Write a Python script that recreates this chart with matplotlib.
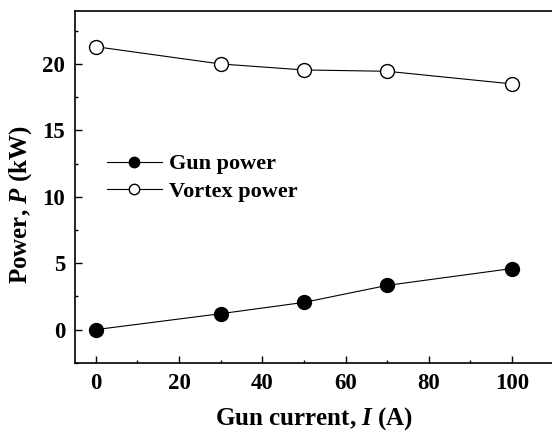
import matplotlib

matplotlib.use("Agg")
import matplotlib.pyplot as plt
from matplotlib.ticker import MultipleLocator

plt.rcParams["font.family"] = ["Liberation Serif", "DejaVu Serif"]
plt.rcParams["font.weight"] = "bold"
plt.rcParams["mathtext.fontset"] = "custom"
plt.rcParams["mathtext.rm"] = "Liberation Serif:bold"
plt.rcParams["mathtext.it"] = "Liberation Serif:bold:italic"

current = [0, 30, 50, 70, 100]
gun_power = [0.0, 1.2, 2.05, 3.33, 4.6]
vortex_power = [21.3, 20.0, 19.55, 19.45, 18.5]

fig = plt.figure(figsize=(5.52, 4.34), dpi=100)
ax = fig.add_axes([0.136, 0.164, 0.867, 0.811])

ax.plot(current, gun_power, "-o", color="black", linewidth=0.8,
        markersize=10, markerfacecolor="black", markeredgecolor="black",
        label="Gun power")
ax.plot(current, vortex_power, "-o", color="black", linewidth=0.8,
        markersize=10, markerfacecolor="white", markeredgecolor="black",
        markeredgewidth=1.0, label="Vortex power")

ax.set_xlim(-5, 110)
ax.set_ylim(-2.5, 24)
ax.xaxis.set_major_locator(MultipleLocator(20))
ax.xaxis.set_minor_locator(MultipleLocator(10))
ax.yaxis.set_major_locator(MultipleLocator(5))
ax.yaxis.set_minor_locator(MultipleLocator(2.5))
ax.tick_params(which="both", direction="in", labelsize=16.5, width=1.0)
ax.tick_params(which="major", length=5, pad=7)
ax.tick_params(which="minor", length=2.5)
for spine in ax.spines.values():
    spine.set_linewidth(1.2)

ax.set_xlabel("Gun current, $I$ (A)", fontsize=18, fontweight="bold", labelpad=8.5)
ax.set_ylabel("Power, $P$ (kW)", fontsize=18, fontweight="bold")
ax.yaxis.set_label_coords(-0.086, 0.449)

ax.legend(loc="upper left", bbox_to_anchor=(0.066, 0.594), frameon=False,
          fontsize=16, markerscale=0.75, handlelength=2.5, handletextpad=0.3,
          borderpad=0, borderaxespad=0, labelspacing=0.3)

fig.savefig("out.png", dpi=100)
